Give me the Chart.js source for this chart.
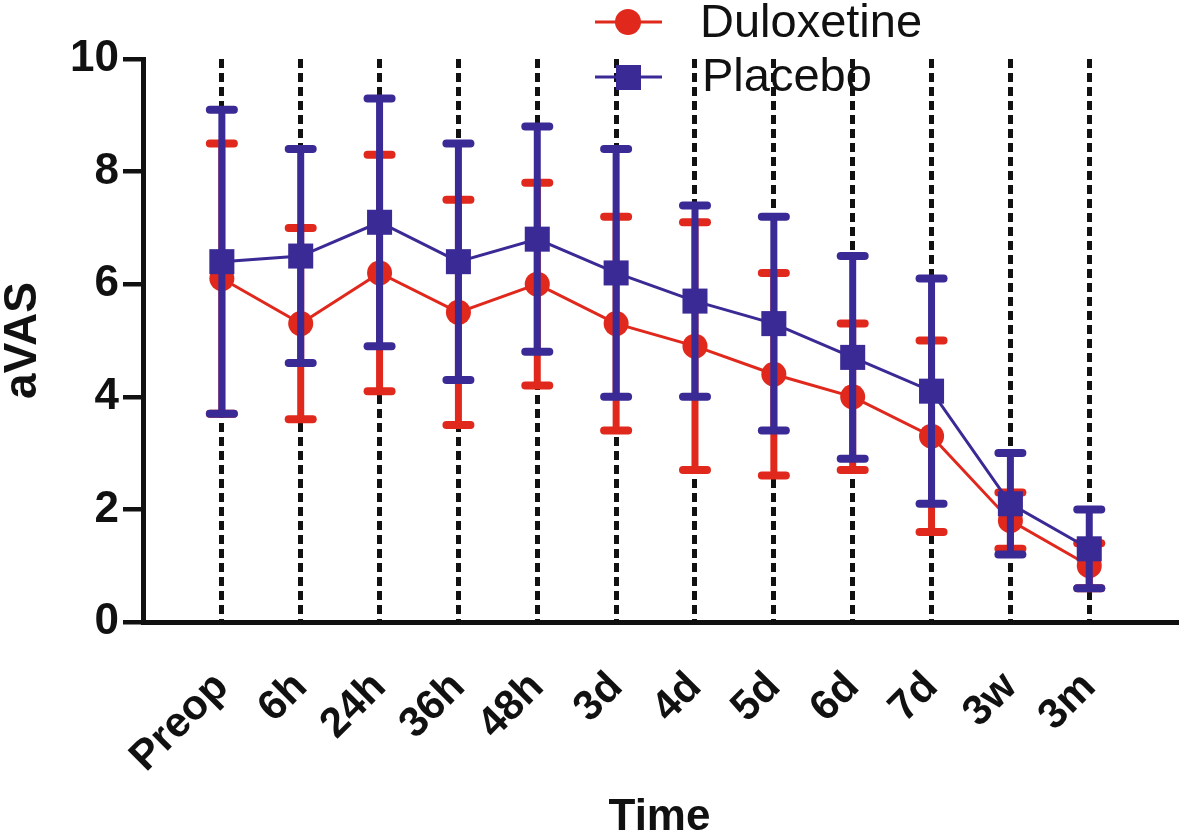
<!DOCTYPE html>
<html>
<head>
<meta charset="utf-8">
<script src="https://cdn.jsdelivr.net/npm/chart.js@4.4.1/dist/chart.umd.min.js"></script>
<style>
  html, body { margin: 0; padding: 0; background: #fff; }
  canvas { display: block; }
</style>
</head>
<body>
<canvas id="vasChart" width="1180" height="840"></canvas>
<script>
const timeLabels = ["Preop", "6h", "24h", "36h", "48h", "3d", "4d", "5d", "6d", "7d", "3w", "3m"];

const duloxMean  = [6.1, 5.3, 6.2, 5.5, 6.0, 5.3, 4.9, 4.4, 4.0, 3.3, 1.8, 1.0];
const duloxUpper = [8.5, 7.0, 8.3, 7.5, 7.8, 7.2, 7.1, 6.2, 5.3, 5.0, 2.3, 1.4];
const duloxLower = [3.7, 3.6, 4.1, 3.5, 4.2, 3.4, 2.7, 2.6, 2.7, 1.6, 1.3, 0.6];

const placeboMean  = [6.4, 6.5, 7.1, 6.4, 6.8, 6.2, 5.7, 5.3, 4.7, 4.1, 2.1, 1.3];
const placeboUpper = [9.1, 8.4, 9.3, 8.5, 8.8, 8.4, 7.4, 7.2, 6.5, 6.1, 3.0, 2.0];
const placeboLower = [3.7, 4.6, 4.9, 4.3, 4.8, 4.0, 4.0, 3.4, 2.9, 2.1, 1.2, 0.6];

const yTicks = [0, 2, 4, 6, 8, 10];

const RED = "#e0281d";
const BLUE = "#3a2a95";
const INK = "#111111";

const toPoints = (arr) => arr.map((v, i) => ({ x: i, y: v }));

// error bars drawn just before each dataset, so later series sit on top
const errorBars = {
    id: "errorBars",
    beforeDatasetDraw(chart, args) {
        const ds = chart.data.datasets[args.index];
        if (!ds.upper) return;
        const y = chart.scales.y;
        const ctx = chart.ctx;
        ctx.save();
        ctx.strokeStyle = ds.borderColor;
        args.meta.data.forEach((pt, i) => {
            const top = y.getPixelForValue(ds.upper[i]);
            const bot = y.getPixelForValue(ds.lower[i]);
            ctx.lineCap = "butt";
            ctx.lineWidth = 7;
            ctx.beginPath();
            ctx.moveTo(pt.x, top);
            ctx.lineTo(pt.x, bot);
            ctx.stroke();
            ctx.lineCap = "round";
            ctx.lineWidth = 8;
            [top, bot].forEach((yy) => {
                ctx.beginPath();
                ctx.moveTo(pt.x - 12, yy);
                ctx.lineTo(pt.x + 12, yy);
                ctx.stroke();
            });
        });
        ctx.restore();
    },
};

const legendBox = {
    id: "legendBox",
    afterDraw(chart) {
        const ctx = chart.ctx;
        ctx.save();
        ctx.lineWidth = 3;
        ctx.strokeStyle = RED;
        ctx.beginPath();
        ctx.moveTo(595, 22);
        ctx.lineTo(662, 22);
        ctx.stroke();
        ctx.fillStyle = RED;
        ctx.beginPath();
        ctx.arc(628, 22, 13, 0, Math.PI * 2);
        ctx.fill();

        ctx.strokeStyle = BLUE;
        ctx.beginPath();
        ctx.moveTo(595, 77);
        ctx.lineTo(662, 77);
        ctx.stroke();
        ctx.fillStyle = BLUE;
        ctx.fillRect(616, 65, 25, 25);

        ctx.fillStyle = INK;
        ctx.font = "47px 'Liberation Sans', Arial, sans-serif";
        ctx.textBaseline = "alphabetic";
        ctx.textAlign = "left";
        ctx.fillText("Duloxetine", 700, 37);
        ctx.fillText("Placebo", 702, 91);
        ctx.restore();
    },
};

new Chart(document.getElementById("vasChart"), {
    type: "line",
    data: {
        datasets: [
            {
                label: "Duloxetine",
                data: toPoints(duloxMean),
                upper: duloxUpper,
                lower: duloxLower,
                borderColor: RED,
                backgroundColor: RED,
                borderWidth: 3,
                pointStyle: "circle",
                pointRadius: 12.5,
                pointBorderWidth: 0,
                order: 1,
            },
            {
                label: "Placebo",
                data: toPoints(placeboMean),
                upper: placeboUpper,
                lower: placeboLower,
                borderColor: BLUE,
                backgroundColor: BLUE,
                borderWidth: 3,
                pointStyle: "rect",
                pointRadius: 17.7,
                pointBorderWidth: 0,
                order: 0,
            },
        ],
    },
    options: {
        responsive: false,
        devicePixelRatio: 1,
        animation: false,
        layout: { autoPadding: false, padding: { top: 59, right: 4, left: 0, bottom: 0 } },
        plugins: {
            legend: { display: false },
            tooltip: { enabled: false },
        },
        scales: {
            x: {
                type: "linear",
                min: -1,
                max: 12.1,
                afterFit: (scale) => {
                    scale.height = 218;
                    scale.paddingLeft = 0;
                    scale.paddingRight = 0;
                },
                ticks: {
                    stepSize: 1,
                    includeBounds: false,
                    autoSkip: false,
                    minRotation: 45,
                    maxRotation: 45,
                    padding: 39,
                    color: INK,
                    font: { family: "'Liberation Sans', Arial, sans-serif", size: 42, weight: "bold", lineHeight: 1.3 },
                    callback: (v) => (Number.isInteger(v) && timeLabels[v] !== undefined ? timeLabels[v] : ""),
                },
                grid: {
                    drawTicks: false,
                    lineWidth: 5,
                    color: (c) => (c.tick && c.tick.value >= 0 && c.tick.value < timeLabels.length ? INK : "rgba(0,0,0,0)"),
                },
                border: { display: true, width: 5, color: INK, dash: [9, 5] },
                title: {
                    display: true,
                    text: "Time",
                    color: INK,
                    padding: { top: 0, bottom: 0 },
                    font: { family: "'Liberation Sans', Arial, sans-serif", size: 44, weight: "bold", lineHeight: 1 },
                },
            },
            y: {
                min: 0,
                max: 10,
                afterFit: (scale) => { scale.width = 143; },
                afterBuildTicks: (scale) => { scale.ticks = yTicks.map((v) => ({ value: v })); },
                ticks: {
                    padding: 4,
                    color: INK,
                    font: { family: "'Liberation Sans', Arial, sans-serif", size: 44, weight: "bold" },
                },
                grid: {
                    drawOnChartArea: false,
                    drawTicks: true,
                    tickLength: 20,
                    lineWidth: 4.5,
                    color: INK,
                },
                border: { display: true, width: 5, color: INK },
                title: {
                    display: true,
                    text: "aVAS",
                    color: INK,
                    padding: { top: 0, bottom: 0 },
                    font: { family: "'Liberation Sans', Arial, sans-serif", size: 46, weight: "bold", lineHeight: 1 },
                },
            },
        },
    },
    plugins: [errorBars, legendBox],
});
</script>
</body>
</html>
